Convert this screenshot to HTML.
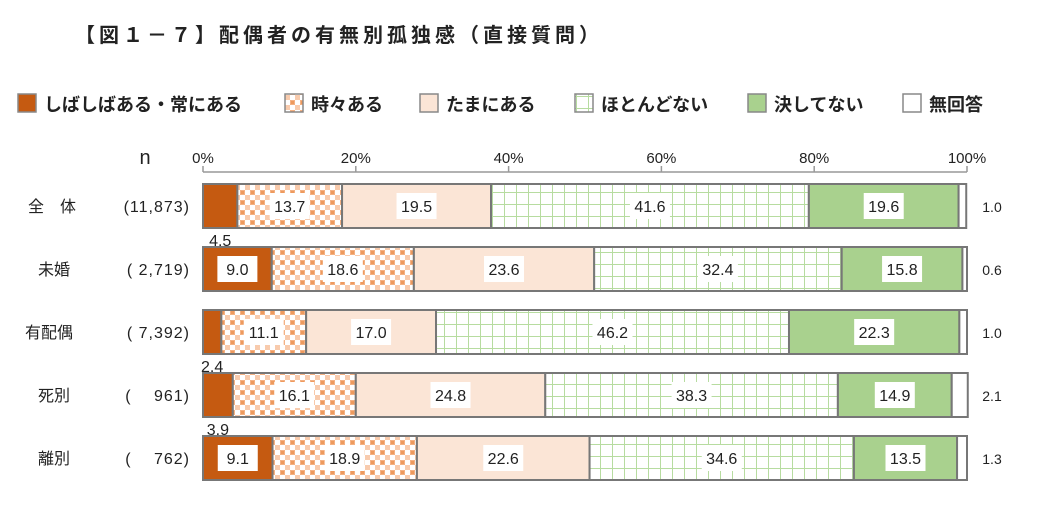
<!DOCTYPE html>
<html><head><meta charset="utf-8"><style>
body{margin:0;background:#fff;}
svg text{font-family:"Liberation Sans","Noto Sans CJK JP",sans-serif;}
</style></head><body>
<svg id="chart" width="1042" height="520" xmlns="http://www.w3.org/2000/svg">
<defs>
<pattern id="pCheck" width="10" height="10" patternUnits="userSpaceOnUse">
<rect width="10" height="10" fill="#fff"/>
<rect x="0" y="0" width="5" height="5" fill="#F4B183"/>
<rect x="5" y="5" width="5" height="5" fill="#F8CBAD"/>
<rect x="1" y="1" width="3" height="3" fill="#ED9A5E"/>
</pattern>
<pattern id="pGrid" width="12" height="12" patternUnits="userSpaceOnUse">
<rect width="12" height="12" fill="#fff"/>
<path d="M0 0.5H12M0.5 0V12" stroke="#B7DCA0" stroke-width="1"/>
</pattern>
</defs>
<text x="75" y="42" font-size="20" font-weight="bold" letter-spacing="4" fill="#222">【図１－７】配偶者の有無別孤独感（直接質問）</text>
<g id="legend"></g>
<g id="axis"></g>
<g id="bars"></g>
</svg>
<script>
const categories=["全　体","未婚","有配偶","死別","離別"];
const nLabels=["(11,873)","( 2,719)","( 7,392)","(　 961)","(　 762)"];
const seriesNames=["しばしばある・常にある","時々ある","たまにある","ほとんどない","決してない","無回答"];
const s1=[4.5,9.0,2.4,3.9,9.1];
const s2=[13.7,18.6,11.1,16.1,18.9];
const s3=[19.5,23.6,17.0,24.8,22.6];
const s4=[41.6,32.4,46.2,38.3,34.6];
const s5=[19.6,15.8,22.3,14.9,13.5];
const s6=[1.0,0.6,1.0,2.1,1.3];
const ticks=[0,20,40,60,80,100];
const fills=["#C55A11","url(#pCheck)","#FBE5D6","url(#pGrid)","#A9D18E","#fff"];
const NS="http://www.w3.org/2000/svg";
const X0=203,X1=967;
const xs=v=>X0+(X1-X0)*v/100;
const rowY=i=>184+63*i;
const BH=44;
function mk(t,a,p,txt){const e=document.createElementNS(NS,t);for(const k in a)e.setAttribute(k,a[k]);if(txt!==undefined)e.textContent=txt;p.appendChild(e);return e;}
const lg=document.getElementById('legend');
const lx=[18,285,420,575,748,903];
seriesNames.forEach((n,i)=>{
 const r=mk('rect',{x:lx[i],y:94,width:18,height:18,fill:fills[i],stroke:"#888","stroke-width":1.5},lg);
 
 
 const t=mk('text',{x:lx[i]+26,y:111,"font-size":18,"font-weight":"bold",fill:"#222"},lg,n);
 
 
});
const ax=document.getElementById('axis');
mk('line',{x1:X0,y1:172,x2:X1,y2:172,stroke:"#999","stroke-width":1.5},ax);
const nh=mk('text',{x:145,y:164,"font-size":20,fill:"#222","text-anchor":"middle"},ax,"n");


ticks.forEach(t=>{
 mk('line',{x1:xs(t),y1:166,x2:xs(t),y2:172,stroke:"#999","stroke-width":1.5},ax);
 const tt=mk('text',{x:xs(t),y:163,"font-size":15,fill:"#222","text-anchor":"middle"},ax,t+"%");
 
 
});
const bg=document.getElementById('bars');
const series=[s1,s2,s3,s4,s5,s6];
categories.forEach((c,i)=>{
 const y=rowY(i),cy=y+BH/2;
 const cl=mk('text',{x:category_x(i),y:cy+6,"font-size":16,fill:"#222"},bg,c);
 
 
 const nl=mk('text',{x:190,y:cy+6,"font-size":16,"letter-spacing":"1",fill:"#222","text-anchor":"end"},bg,nLabels[i]);
 
 
 let acc=0;
 series.forEach((s,j)=>{
  const v=s[i];const x=xs(acc),w=xs(acc+v)-x;
  const r=mk('rect',{x:x,y:y,width:w,height:BH,fill:fills[j],stroke:"#777","stroke-width":2},bg);
  
  
  const mid=x+w/2;
  if(j===5){
   const t=mk('text',{x:992,y:cy+6,"font-size":14,fill:"#222","text-anchor":"middle"},bg,v.toFixed(1));
   
   
  }else if(v<5){
   const t=mk('text',{x:mid,y:y+BH+18,"font-size":16,fill:"#222","text-anchor":"middle"},bg,v.toFixed(1));
   
   
  }else{
   mk('rect',{x:mid-20,y:cy-13,width:40,height:26,fill:"#fff"},bg);
   const t=mk('text',{x:mid,y:cy+6,"font-size":16,fill:"#222","text-anchor":"middle"},bg,v.toFixed(1));
   
   
  }
  acc+=v;
 });
});
function category_x(i){return i===0?28:(categories[i].length===3?25:38);}
</script>
</body></html>
